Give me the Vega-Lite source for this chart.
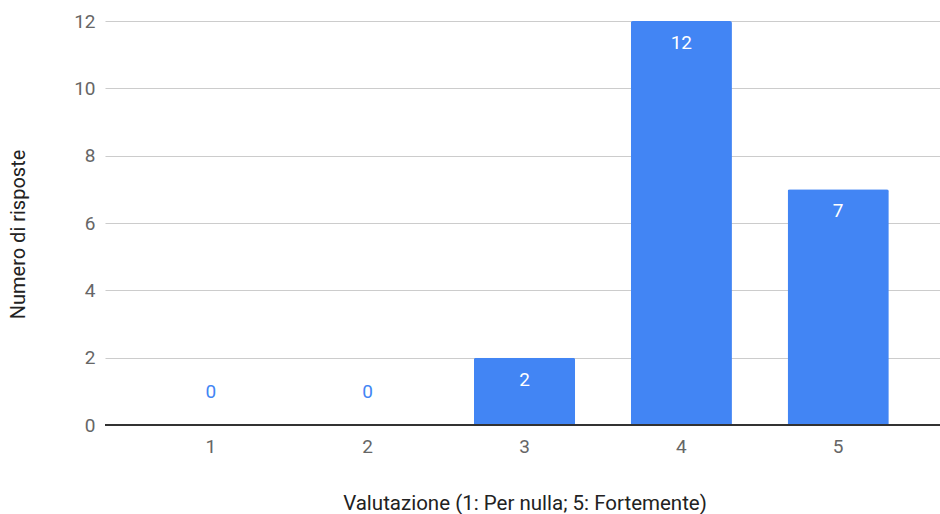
{
  "$schema": "https://vega.github.io/schema/vega-lite/v6.json",
  "width": 839,
  "height": 404,
  "autosize": {"type": "none"},
  "padding": {"left": 105, "top": 21, "right": 0, "bottom": 89},
  "background": "white",
  "config": {
    "view": {"stroke": null},
    "font": "Roboto"
  },
  "data": {
    "values": [
      {"valutazione": "1", "risposte": 0},
      {"valutazione": "2", "risposte": 0},
      {"valutazione": "3", "risposte": 2},
      {"valutazione": "4", "risposte": 12},
      {"valutazione": "5", "risposte": 7}
    ]
  },
  "encoding": {
    "x": {
      "field": "valutazione",
      "type": "nominal",
      "sort": null,
      "scale": {"paddingInner": 0.355, "paddingOuter": 0.352},
      "axis": {
        "title": "Valutazione (1: Per nulla; 5: Fortemente)",
        "labelAngle": 0,
        "labelFont": "Roboto",
        "labelFontSize": 19,
        "labelColor": "#666666",
        "labelPadding": 12,
        "ticks": false,
        "domain": false,
        "titleFont": "Roboto",
        "titleFontSize": 20.5,
        "titleFontWeight": "normal",
        "titleColor": "#222222",
        "titlePadding": 37
      }
    },
    "y": {
      "field": "risposte",
      "type": "quantitative",
      "scale": {"domain": [0, 12]},
      "axis": {
        "title": "Numero di risposte",
        "values": [0, 2, 4, 6, 8, 10, 12],
        "labelFont": "Roboto",
        "labelFontSize": 19,
        "labelColor": "#666666",
        "labelPadding": 10,
        "ticks": false,
        "domain": false,
        "gridColor": "#cccccc",
        "gridWidth": 1.2,
        "titleFont": "Roboto",
        "titleFontSize": 20,
        "titleFontWeight": "normal",
        "titleColor": "#222222",
        "titleX": -87,
        "titleY": 213,
        "titleAngle": -90,
        "titleBaseline": "middle"
      }
    }
  },
  "layer": [
    {
      "mark": {"type": "bar", "color": "#4285F4", "cornerRadiusTopLeft": 2, "cornerRadiusTopRight": 2}
    },
    {
      "mark": {"type": "rule", "color": "#333333", "strokeWidth": 1.5},
      "encoding": {
        "x": null,
        "y": {"datum": 0, "type": "quantitative"}
      }
    },
    {
      "transform": [{"filter": "datum.risposte > 0"}],
      "mark": {"type": "text", "color": "white", "fontSize": 19, "font": "Roboto", "baseline": "middle", "dy": 22},
      "encoding": {"text": {"field": "risposte", "type": "quantitative"}}
    },
    {
      "transform": [{"filter": "datum.risposte == 0"}],
      "mark": {"type": "text", "color": "#4285F4", "fontSize": 19, "font": "Roboto", "baseline": "middle", "dy": -33},
      "encoding": {"text": {"field": "risposte", "type": "quantitative"}}
    }
  ]
}
